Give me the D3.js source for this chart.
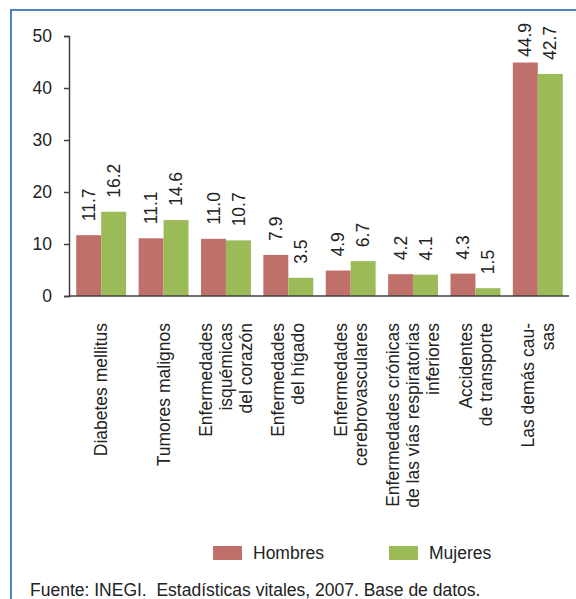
<!DOCTYPE html>
<html>
<head>
<meta charset="utf-8">
<script src="https://cdn.jsdelivr.net/npm/d3@7"></script>
<style>
  html, body { margin: 0; padding: 0; background: #fff; }
  svg { display: block; font-family: "Liberation Sans", Arial, sans-serif; }
</style>
</head>
<body>
<svg id="chart" width="576" height="599"></svg>
<script>
// Causes of death, share by sex (%)
const categories = [
  ["Diabetes mellitus"],
  ["Tumores malignos"],
  ["Enfermedades", "isquémicas", "del corazón"],
  ["Enfermedades", "del hígado"],
  ["Enfermedades", "cerebrovasculares"],
  ["Enfermedades crónicas", "de las vías respiratorias", "inferiores"],
  ["Accidentes", "de transporte"],
  ["Las demás cau-", "sas"]
];
const hombres = [11.7, 11.1, 11.0, 7.9, 4.9, 4.2, 4.3, 44.9];
const mujeres = [16.2, 14.6, 10.7, 3.5, 6.7, 4.1, 1.5, 42.7];
const seriesNames = ["Hombres", "Mujeres"];
const seriesColors = ["#c0706a", "#9bbb59"];
const yTicks = [0, 10, 20, 30, 40, 50];
const source = "Fuente: INEGI.\u00a0 Estadísticas vitales, 2007. Base de datos.";

const svg = d3.select("#chart");
const fontSize = 17.5;

// outer frame
svg.append("rect")
  .attr("x", 11).attr("y", 10)
  .attr("width", 600).attr("height", 620)
  .attr("fill", "none")
  .attr("stroke", "#4f81bd")
  .attr("stroke-width", 2);

const keys = categories.map((c, i) => i);
const x = d3.scaleBand().domain(keys).range([70, 569]).paddingInner(0.2).paddingOuter(0.1);
const xs = d3.scaleBand().domain([0, 1]).range([0, x.bandwidth()]);
const y = d3.scaleLinear().domain([0, 50]).range([296, 36]);

const rows = keys.map(i => [hombres[i], mujeres[i]]);

// bars
const groups = svg.append("g").selectAll("g")
  .data(rows).join("g")
  .attr("transform", (d, i) => `translate(${x(i)},0)`);

groups.selectAll("rect")
  .data(d => d.map((v, s) => ({v, s})))
  .join("rect")
  .attr("x", d => xs(d.s))
  .attr("y", d => y(d.v))
  .attr("width", xs.bandwidth())
  .attr("height", d => y(0) - y(d.v))
  .attr("fill", d => seriesColors[d.s]);

// value labels, rotated, kept inside the chart area
groups.selectAll("text")
  .data(d => d.map((v, s) => ({v, s})))
  .join("text")
  .attr("font-size", fontSize)
  .attr("fill", "#222")
  .attr("text-anchor", "start")
  .attr("dy", "0.35em")
  .text(d => d.v.toFixed(1))
  .each(function(d) {
    const len = this.getComputedTextLength();
    const base = Math.max(y(d.v) - 14, 23 + len);
    const cx = xs(d.s) + xs.bandwidth() / 2;
    d3.select(this).attr("transform", `translate(${cx},${base}) rotate(-90)`);
  });

// y axis
const yAxis = svg.append("g")
  .attr("transform", "translate(69,0)")
  .call(d3.axisLeft(y).tickValues(yTicks).tickSize(5).tickPadding(12).tickFormat(d3.format("d")));
yAxis.select(".domain").attr("stroke", "#404040").attr("stroke-width", 1.5);
yAxis.selectAll(".tick line").attr("stroke", "#404040").attr("stroke-width", 1.5);
yAxis.selectAll(".tick text")
  .attr("font-size", fontSize)
  .attr("font-family", "Liberation Sans, Arial, sans-serif")
  .attr("fill", "#222");

// x axis baseline
svg.append("line")
  .attr("x1", 69).attr("x2", 569)
  .attr("y1", y(0)).attr("y2", y(0))
  .attr("stroke", "#404040").attr("stroke-width", 1.5);

// category labels, rotated with lines stacked across the band
const lineGap = 20;
const catG = svg.append("g").selectAll("g")
  .data(categories).join("g");
catG.each(function(lines, i) {
  const cx = x(i) + x.bandwidth() / 2;
  const n = lines.length;
  d3.select(this).selectAll("text")
    .data(lines).join("text")
    .attr("font-size", fontSize)
    .attr("fill", "#222")
    .attr("text-anchor", "end")
    .attr("dy", "0.35em")
    .attr("transform", (t, k) => `translate(${cx + (k - (n - 1) / 2) * lineGap},323) rotate(-90)`)
    .text(t => t);
});

// legend
const legendX = [213, 389];
const lg = svg.append("g").selectAll("g")
  .data(seriesNames).join("g")
  .attr("transform", (d, i) => `translate(${legendX[i]},546)`);
lg.append("rect")
  .attr("width", 29).attr("height", 14)
  .attr("fill", (d, i) => seriesColors[i]);
lg.append("text")
  .attr("x", 40).attr("y", 7).attr("dy", "0.35em")
  .attr("font-size", fontSize)
  .attr("fill", "#222")
  .text(d => d);

// source note
svg.append("text")
  .attr("x", 30).attr("y", 590).attr("dy", "0.35em")
  .attr("font-size", fontSize)
  .attr("fill", "#222")
  .text(source);
</script>
</body>
</html>
